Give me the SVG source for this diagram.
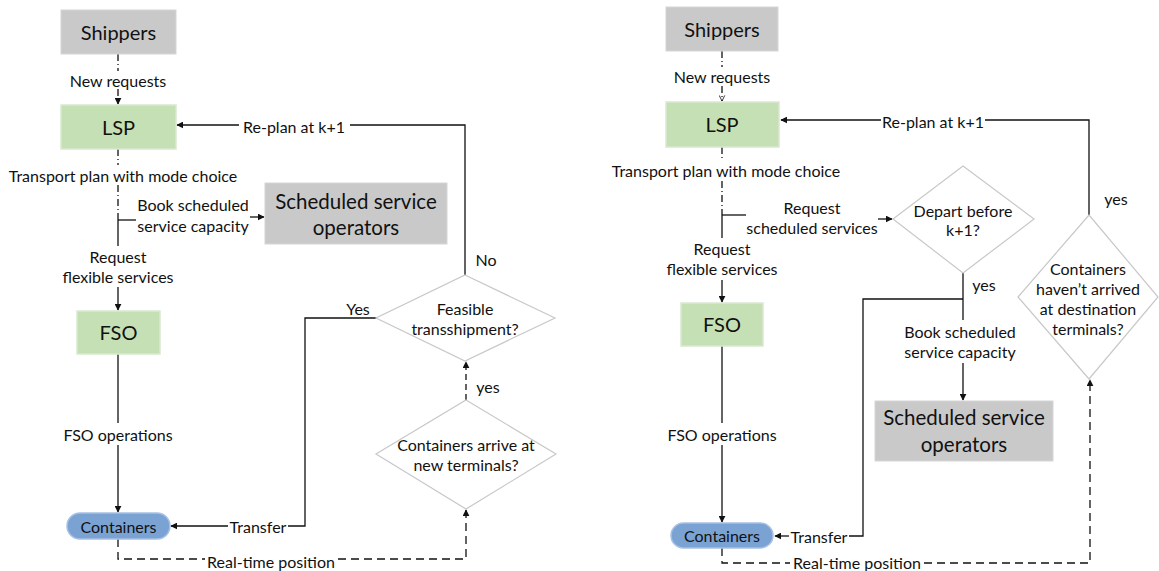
<svg xmlns="http://www.w3.org/2000/svg" width="1159" height="571" viewBox="0 0 1159 571">
  <style>
    text { font-family: Lato, "Open Sans", "Liberation Sans", sans-serif; fill: #111; dominant-baseline: central; text-anchor: middle; }
    .lbl { font-size: 16px; }
    .big { font-size: 20px; }
    .huge { font-size: 20.5px; }
    .cont { font-size: 16px; }
    .gray { fill: #c9c9c9; stroke: #d6d6d6; stroke-width: 1; }
    .green { fill: #c5e0b4; stroke: #d9e9cf; stroke-width: 1.5; }
    .blue { fill: #7aa3d4; stroke: #a6c1e4; stroke-width: 1.5; }
    .dia { fill: #fff; stroke: #c8c8c8; stroke-width: 1.2; }
    .ln { fill: none; stroke: #111; stroke-width: 1.3; }
    .dd { stroke-dasharray: 7 3 1 3; }
    .da { stroke-dasharray: 8 5; }
  </style>
  <defs>
    <marker id="ah" viewBox="0 0 10 10" refX="9" refY="5" markerWidth="7" markerHeight="7" orient="auto" markerUnits="userSpaceOnUse">
      <path d="M0,0 L10,5 L0,10 z" fill="#111"/>
    </marker>
    <marker id="av" viewBox="0 0 10 10" refX="9" refY="5" markerWidth="7" markerHeight="7" orient="auto" markerUnits="userSpaceOnUse">
      <path d="M1,1 L9,5 L1,9" fill="none" stroke="#111" stroke-width="1.2"/>
    </marker>
  </defs>

  <!-- connectors -->
  <g id="connectors">
    <!-- left flow -->
    <path class="ln dd" d="M118,54 V71"/>
    <path class="ln dd" d="M118,89 V104" marker-end="url(#ah)"/>
    <path class="ln dd" d="M118,149 V165"/>
    <path class="ln dd" d="M118,185 V220"/>
    <path class="ln" d="M118,220 H136"/>
    <path class="ln" d="M250,217 H264" marker-end="url(#ah)"/>
    <path class="ln" d="M118,220 V246"/>
    <path class="ln" d="M118,287 V310" marker-end="url(#ah)"/>
    <path class="ln" d="M118,354 V423"/>
    <path class="ln" d="M118,445 V512" marker-end="url(#ah)"/>
    <path class="ln" d="M377,318 H305 V526 H288"/>
    <path class="ln" d="M228,526 H171" marker-end="url(#ah)"/>
    <path class="ln" d="M465,275 V125 H350"/>
    <path class="ln" d="M239,125 H177" marker-end="url(#ah)"/>
    <path class="ln" d="M466,400 V362" stroke-dasharray="6 4" marker-end="url(#ah)"/>
    <path class="ln da" d="M118,539 V559 H205"/>
    <path class="ln da" d="M338,559 H466 V510" marker-end="url(#ah)"/>

    <!-- right flow -->
    <path class="ln dd" d="M722,51 V67"/>
    <path class="ln dd" d="M722,86 V101" marker-end="url(#av)"/>
    <path class="ln dd" d="M722,147 V160"/>
    <path class="ln dd" d="M722,181 V215"/>
    <path class="ln" d="M722,215 H746"/>
    <path class="ln" d="M878,219 H892" marker-end="url(#ah)"/>
    <path class="ln" d="M722,215 V238"/>
    <path class="ln" d="M722,280 V302" marker-end="url(#ah)"/>
    <path class="ln" d="M722,346 V423"/>
    <path class="ln" d="M722,445 V522" marker-end="url(#ah)"/>
    <path class="ln" d="M963,273 V320"/>
    <path class="ln" d="M963,363 V400" marker-end="url(#ah)"/>
    <path class="ln" d="M963,299 H863 V536 H849"/>
    <path class="ln" d="M789,536 H775" marker-end="url(#ah)"/>
    <path class="ln" d="M1089,215 V120 H985"/>
    <path class="ln" d="M881,120 H781" marker-end="url(#ah)"/>
    <path class="ln da" d="M722,548 V563 H790"/>
    <path class="ln da" d="M924,563 H1090 V380" marker-end="url(#ah)"/>

    <!-- connector labels -->
    <text class="lbl" x="118" y="80">New requests</text>
    <text class="lbl" x="123" y="175">Transport plan with mode choice</text>
    <text class="lbl" x="193" y="204">Book scheduled</text>
    <text class="lbl" x="193" y="225">service capacity</text>
    <text class="lbl" x="118" y="256">Request</text>
    <text class="lbl" x="118" y="276">flexible services</text>
    <text class="lbl" x="118" y="434">FSO operations</text>
    <text class="lbl" x="258" y="526">Transfer</text>
    <text class="lbl" x="358" y="308">Yes</text>
    <text class="lbl" x="486" y="259">No</text>
    <text class="lbl" x="294" y="126">Re-plan at k+1</text>
    <text class="lbl" x="488" y="386">yes</text>
    <text class="lbl" x="271" y="561">Real-time position</text>

    <text class="lbl" x="722" y="76">New requests</text>
    <text class="lbl" x="726" y="170">Transport plan with mode choice</text>
    <text class="lbl" x="812" y="207">Request</text>
    <text class="lbl" x="812" y="227">scheduled services</text>
    <text class="lbl" x="722" y="248">Request</text>
    <text class="lbl" x="722" y="268">flexible services</text>
    <text class="lbl" x="722" y="434">FSO operations</text>
    <text class="lbl" x="819" y="536">Transfer</text>
    <text class="lbl" x="984" y="284">yes</text>
    <text class="lbl" x="960" y="331">Book scheduled</text>
    <text class="lbl" x="960" y="351">service capacity</text>
    <text class="lbl" x="933" y="121">Re-plan at k+1</text>
    <text class="lbl" x="1116" y="198">yes</text>
    <text class="lbl" x="857" y="562">Real-time position</text>
  </g>

  <!-- left panel nodes -->
  <g id="shippers-a">
    <rect class="gray" x="61" y="10" width="115" height="44"/>
    <text class="big" x="118.5" y="32">Shippers</text>
  </g>
  <g id="lsp-a">
    <rect class="green" x="61" y="105" width="115" height="44"/>
    <text class="big" x="118.5" y="127">LSP</text>
  </g>
  <g id="sso-a">
    <rect class="gray" x="265" y="183" width="182" height="61"/>
    <text class="huge" x="356" y="201">Scheduled service</text>
    <text class="huge" x="356" y="227">operators</text>
  </g>
  <g id="fso-a">
    <rect class="green" x="77" y="311" width="83" height="43"/>
    <text class="big" x="118.5" y="332">FSO</text>
  </g>
  <g id="containers-a">
    <rect class="blue" x="67" y="513" width="103" height="26" rx="13"/>
    <text class="cont" x="118.5" y="526">Containers</text>
  </g>
  <g id="feasible-a">
    <polygon class="dia" points="465,275 555,318 465,361 376,318"/>
    <text class="lbl" x="465" y="308">Feasible</text>
    <text class="lbl" x="465" y="328">transshipment?</text>
  </g>
  <g id="arrive-a">
    <polygon class="dia" points="466,400 556,454 466,509 376,454"/>
    <text class="lbl" x="466" y="444">Containers arrive at</text>
    <text class="lbl" x="466" y="464">new terminals?</text>
  </g>

  <!-- right panel nodes -->
  <g id="shippers-b">
    <rect class="gray" x="666" y="7" width="112" height="44"/>
    <text class="big" x="722" y="29">Shippers</text>
  </g>
  <g id="lsp-b">
    <rect class="green" x="666" y="102" width="113" height="45"/>
    <text class="big" x="722" y="124">LSP</text>
  </g>
  <g id="depart-b">
    <polygon class="dia" points="963,166 1034,219 963,273 893,219"/>
    <text class="lbl" x="963" y="210">Depart before</text>
    <text class="lbl" x="963" y="229">k+1?</text>
  </g>
  <g id="fso-b">
    <rect class="green" x="681" y="303" width="82" height="43"/>
    <text class="big" x="722" y="324">FSO</text>
  </g>
  <g id="sso-b">
    <rect class="gray" x="875" y="401" width="178" height="60"/>
    <text class="huge" x="964" y="417">Scheduled service</text>
    <text class="huge" x="964" y="444">operators</text>
  </g>
  <g id="arrived-b">
    <polygon class="dia" points="1089,215 1158,297 1089,379 1018,297"/>
    <text class="lbl" x="1088" y="268">Containers</text>
    <text class="lbl" x="1088" y="288">haven’t arrived</text>
    <text class="lbl" x="1088" y="308">at destination</text>
    <text class="lbl" x="1088" y="328">terminals?</text>
  </g>
  <g id="containers-b">
    <rect class="blue" x="671" y="523" width="102" height="25" rx="12.5"/>
    <text class="cont" x="722" y="535.5">Containers</text>
  </g>
</svg>
